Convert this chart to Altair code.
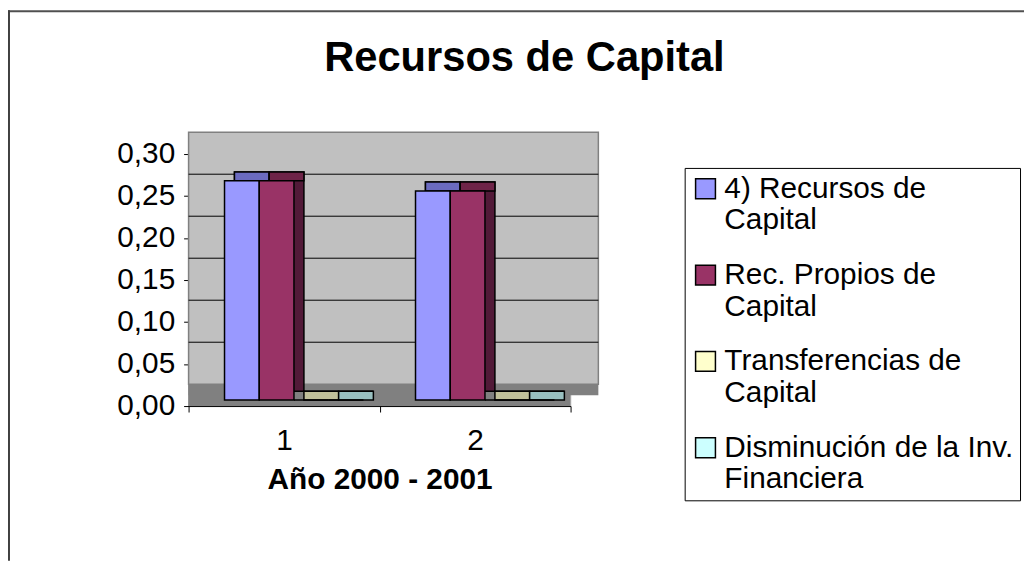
import json
import altair as alt
import pandas as pd

FONT = "Liberation Sans"

# ---- data ----
years = ["1", "2"]
series = [
    "4) Recursos de Capital",
    "Rec. Propios de Capital",
    "Transferencias de Capital",
    "Disminución de la Inv. Financiera",
]
legend_lines = [
    ["4) Recursos de", "Capital"],
    ["Rec. Propios de", "Capital"],
    ["Transferencias de", "Capital"],
    ["Disminución de la Inv.", "Financiera"],
]
rec_capital = [0.261, 0.249]
rec_propios = [0.261, 0.249]
transferencias = [0.0, 0.0]
disminucion = [0.0, 0.0]
y_ticks = [0.0, 0.05, 0.10, 0.15, 0.20, 0.25, 0.30]
grid_values = [0.05, 0.10, 0.15, 0.20, 0.25]

# ---- styles ----
front_colors = ["#9999FF", "#993366", "#FFFFCC", "#CCFFFF"]
side_colors = ["#5C5CB8", "#521A38", "#C0C09A", "#99C0C0"]
top_colors = ["#6B6BC0", "#6E2448", "#C0C09A", "#99C0C0"]

rows = []
for i, yr in enumerate(years):
    for s, vals in zip(series, [rec_capital, rec_propios, transferencias, disminucion]):
        rows.append({"Año": yr, "Serie": s, "Valor": vals[i]})
df = pd.DataFrame(rows)
grid_df = pd.DataFrame({"v": grid_values})
one = pd.DataFrame({"a": [0]})

W, H = 385, 254
PAD = {"left": 182, "top": 145, "right": 457, "bottom": 156}
DX, DY = 28, 22          # depth of the walls
BY = -6                  # bar front lift
BDY = -9                 # bar depth (vertical)
FRONT_ALIGN = 0.69       # group shifted right inside its band
DEPTH_ALIGN = 0.881      # depth faces shifted a further 10px

yscale = alt.Scale(domain=[0, 0.30], nice=False, zero=True)

label_expr = " : ".join(
    f"datum.label == {json.dumps(s, ensure_ascii=False)} ? {json.dumps(l, ensure_ascii=False)}"
    for s, l in zip(series, legend_lines)
) + " : datum.label"

y_axis = alt.Axis(
    values=y_ticks,
    labelExpr="replace(format(datum.value, '.2f'), '.', ',')",
    title=None, grid=False, labelFontSize=30, labelFont=FONT, labelColor="black",
    domainColor="black", tickColor="black", tickSize=5, labelPadding=9,
)
x_axis = alt.Axis(
    title="Año 2000 - 2001", labelAngle=0, labelFontSize=30, labelFont=FONT,
    labelColor="black", titleFontSize=30, titleFont=FONT, titleFontWeight="bold",
    titleColor="black", domainColor="black", tickColor="black", tickSize=6,
    tickBand="extent", labelPadding=14, titlePadding=9,
)


def build(independent_offset):
    base = alt.Chart(df)
    # side + back walls (stair-step approximation of the 3D box)
    side_wall = alt.Chart(one).mark_rect(
        color="#C0C0C0", yOffset=-DY // 2
    ).encode(y=alt.Y(datum=0.30, scale=yscale, axis=y_axis), y2=alt.Y2(datum=0.0))
    floor_front = alt.Chart(one).mark_rect(
        color="#808080", yOffset=-DY
    ).encode(y=alt.Y(datum=0.0), y2=alt.Y2(datum=0.0))
    floor_back = alt.Chart(one).mark_rect(
        color="#808080", xOffset=DX, yOffset=-DY, y2Offset=-DY // 2
    ).encode(y=alt.Y(datum=0.0), y2=alt.Y2(datum=0.0))
    backwall = alt.Chart(one).mark_rect(
        fill="#C0C0C0", stroke="#808080", strokeWidth=1.5,
        xOffset=DX, yOffset=-DY, y2Offset=-DY
    ).encode(y=alt.Y(datum=0.30), y2=alt.Y2(datum=0.0))
    grid = alt.Chart(grid_df).mark_rule(
        color="black", strokeWidth=1, xOffset=DX, x2Offset=DX, yOffset=-DY
    ).encode(y=alt.Y("v:Q"))
    frame_top = alt.Chart(one).mark_rule(color="#505050", strokeWidth=2).encode(
        x=alt.value(-PAD["left"]), x2=alt.value(W + PAD["right"]), y=alt.value(-PAD["top"] + 1))
    frame_left = alt.Chart(one).mark_rule(color="#404040", strokeWidth=2).encode(
        x=alt.value(-PAD["left"] + 1), y=alt.value(-PAD["top"]), y2=alt.value(H + PAD["bottom"]))

    xenc = alt.X("Año:N", sort=years, scale=alt.Scale(paddingInner=0, paddingOuter=0), axis=x_axis)

    def xoff(align):
        return alt.XOffset("Serie:N", sort=series,
                           scale=alt.Scale(domain=series, paddingInner=0, paddingOuter=0.75, align=align))

    dalign = DEPTH_ALIGN if independent_offset else FRONT_ALIGN
    depth_layers = []
    for s, sc, tc in zip(series, side_colors, top_colors):
        sub = base.transform_filter(alt.datum.Serie == s)
        depth_layers.append(sub.mark_bar(
            color=sc, stroke="black", strokeWidth=1.5, yOffset=BY + BDY, y2Offset=BY,
        ).encode(x=xenc, xOffset=xoff(dalign), y=alt.Y("Valor:Q")))
        depth_layers.append(sub.mark_bar(
            color=tc, stroke="black", strokeWidth=1.5, yOffset=BY + BDY, y2Offset=BY,
        ).encode(x=xenc, xOffset=xoff(dalign), y=alt.Y("Valor:Q"), y2=alt.Y2("Valor:Q")))

    legend = alt.Legend(
        title=None, orient="none", legendX=500, legendY=14,
        labelFontSize=30, labelFont=FONT, labelColor="black", labelLimit=500,
        labelExpr=label_expr, symbolType="square", symbolSize=400,
        symbolStrokeColor="black", symbolStrokeWidth=1.5,
        strokeColor="black", fillColor="white", padding=6,
        labelOffset=4, rowPadding=25,
    )

    front = base.mark_bar(
        stroke="black", strokeWidth=1.5, yOffset=BY, y2Offset=BY,
    ).encode(
        x=xenc, xOffset=xoff(FRONT_ALIGN),
        y=alt.Y("Valor:Q"),
        color=alt.Color("Serie:N", sort=series,
                        scale=alt.Scale(domain=series, range=front_colors),
                        legend=legend),
    )

    ch = alt.layer(frame_top, frame_left, side_wall, floor_front, floor_back, backwall,
                   grid, *depth_layers, front)
    if independent_offset:
        ch = ch.resolve_scale(xOffset="independent")
    ch = ch.properties(
        width=W, height=H,
        title=alt.TitleParams(
            "Recursos de Capital", fontSize=42, font=FONT, fontWeight="bold",
            color="black", anchor="middle", dx=146, offset=-71,
        ),
        autosize=alt.AutoSizeParams(type="none"),
        padding=PAD,
    ).configure_view(stroke=None).configure(background="white")
    return ch


chart = None
for opt in [True, False]:
    try:
        c = build(opt)
        c.to_dict()
        chart = c
        break
    except Exception:
        continue

chart.save("out.html", embed_options={"renderer": "svg", "actions": False})
